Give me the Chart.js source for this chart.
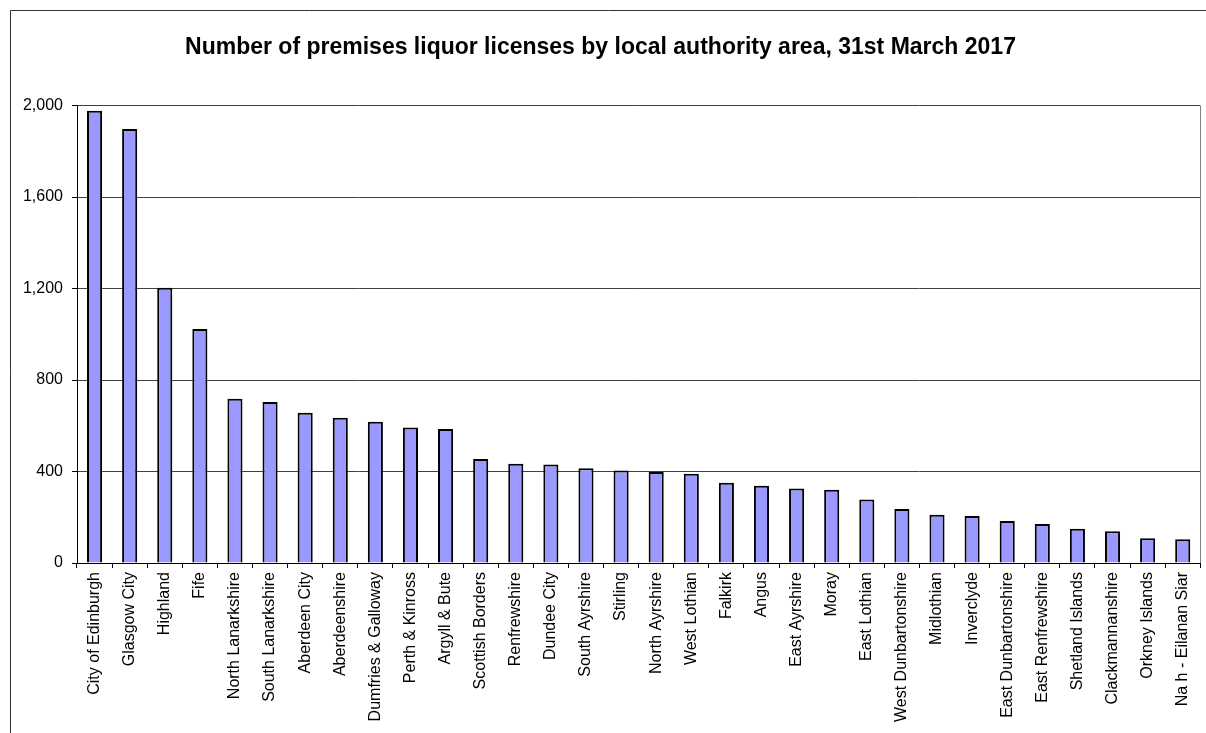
<!DOCTYPE html>
<html>
<head>
<meta charset="utf-8">
<script src="https://cdn.jsdelivr.net/npm/chart.js@4"></script>
<style>
  html, body { margin: 0; padding: 0; background: #fff; }
  #wrap { width: 1206px; height: 733px; position: relative; }
</style>
</head>
<body>
<div id="wrap"><canvas id="c"></canvas></div>
<script>
const titleText = "Number of premises liquor licenses by local authority area, 31st March 2017";
const categories = [
  "City of Edinburgh", "Glasgow City", "Highland", "Fife", "North Lanarkshire",
  "South Lanarkshire", "Aberdeen City", "Aberdeenshire", "Dumfries & Galloway",
  "Perth & Kinross", "Argyll & Bute", "Scottish Borders", "Renfrewshire",
  "Dundee City", "South Ayrshire", "Stirling", "North Ayrshire", "West Lothian",
  "Falkirk", "Angus", "East Ayrshire", "Moray", "East Lothian",
  "West Dunbartonshire", "Midlothian", "Inverclyde", "East Dunbartonshire",
  "East Renfrewshire", "Shetland Islands", "Clackmannanshire", "Orkney Islands",
  "Na h - Eilanan Siar"
];
const licenses = [
  1978, 1898, 1203, 1023, 718,
  704, 657, 635, 618,
  593, 586, 455, 434,
  431, 414, 404, 398, 390,
  351, 338, 326, 320, 278,
  236, 211, 205, 184,
  170, 150, 139, 108,
  104
];
const yTicks = [0, 400, 800, 1200, 1600, 2000];

const framePlugin = {
  id: 'frame',
  afterDraw(chart) {
    const ctx = chart.ctx;
    const a = chart.chartArea;
    ctx.save();
    ctx.strokeStyle = '#333333';
    ctx.lineWidth = 1;
    ctx.beginPath();
    ctx.moveTo(10.5, 733);
    ctx.lineTo(10.5, 10.5);
    ctx.lineTo(1206, 10.5);
    ctx.stroke();
    ctx.strokeStyle = '#808080';
    ctx.beginPath();
    ctx.moveTo(Math.round(a.right) + 0.5, a.top);
    ctx.lineTo(Math.round(a.right) + 0.5, a.bottom);
    ctx.stroke();
    ctx.restore();
  }
};

new Chart(document.getElementById('c'), {
  type: 'bar',
  data: {
    labels: categories,
    datasets: [{
      data: licenses,
      backgroundColor: '#9999FF',
      borderColor: '#000000',
      borderWidth: 2,
      barPercentage: 0.43,
      categoryPercentage: 1.0
    }]
  },
  options: {
    responsive: true,
    maintainAspectRatio: false,
    animation: false,
    devicePixelRatio: 1,
    layout: { padding: { left: 0, right: 5, top: 0, bottom: 0 } },
    plugins: {
      legend: { display: false },
      tooltip: { enabled: false },
      title: {
        display: true,
        text: titleText,
        color: '#000',
        font: { family: 'Liberation Sans, Arial, sans-serif', size: 23, weight: 'bold', lineHeight: 1.2 },
        padding: { top: 34, bottom: 44 }
      }
    },
    scales: {
      x: {
        offset: true,
        grid: {
          offset: true,
          drawOnChartArea: false,
          drawTicks: true,
          tickLength: 5,
          color: '#000'
        },
        border: { color: '#000', width: 1 },
        ticks: {
          autoSkip: false,
          maxRotation: 90,
          minRotation: 90,
          padding: 4,
          color: '#000',
          font: { family: 'Liberation Sans, Arial, sans-serif', size: 16 }
        },
        afterFit(scale) { scale.height = 170; }
      },
      y: {
        min: 0,
        max: 2000,
        afterBuildTicks(scale) { scale.ticks = yTicks.map(v => ({ value: v })); },
        grid: {
          color: '#404040',
          lineWidth: 1,
          drawTicks: true,
          tickLength: 5,
          tickColor: '#000'
        },
        border: { color: '#000', width: 1 },
        ticks: {
          padding: 9,
          color: '#000',
          font: { family: 'Liberation Sans, Arial, sans-serif', size: 16 },
          callback: (v) => Number(v).toLocaleString('en-US')
        },
        afterFit(scale) { scale.width = 77; }
      }
    }
  },
  plugins: [framePlugin]
});
</script>
</body>
</html>
